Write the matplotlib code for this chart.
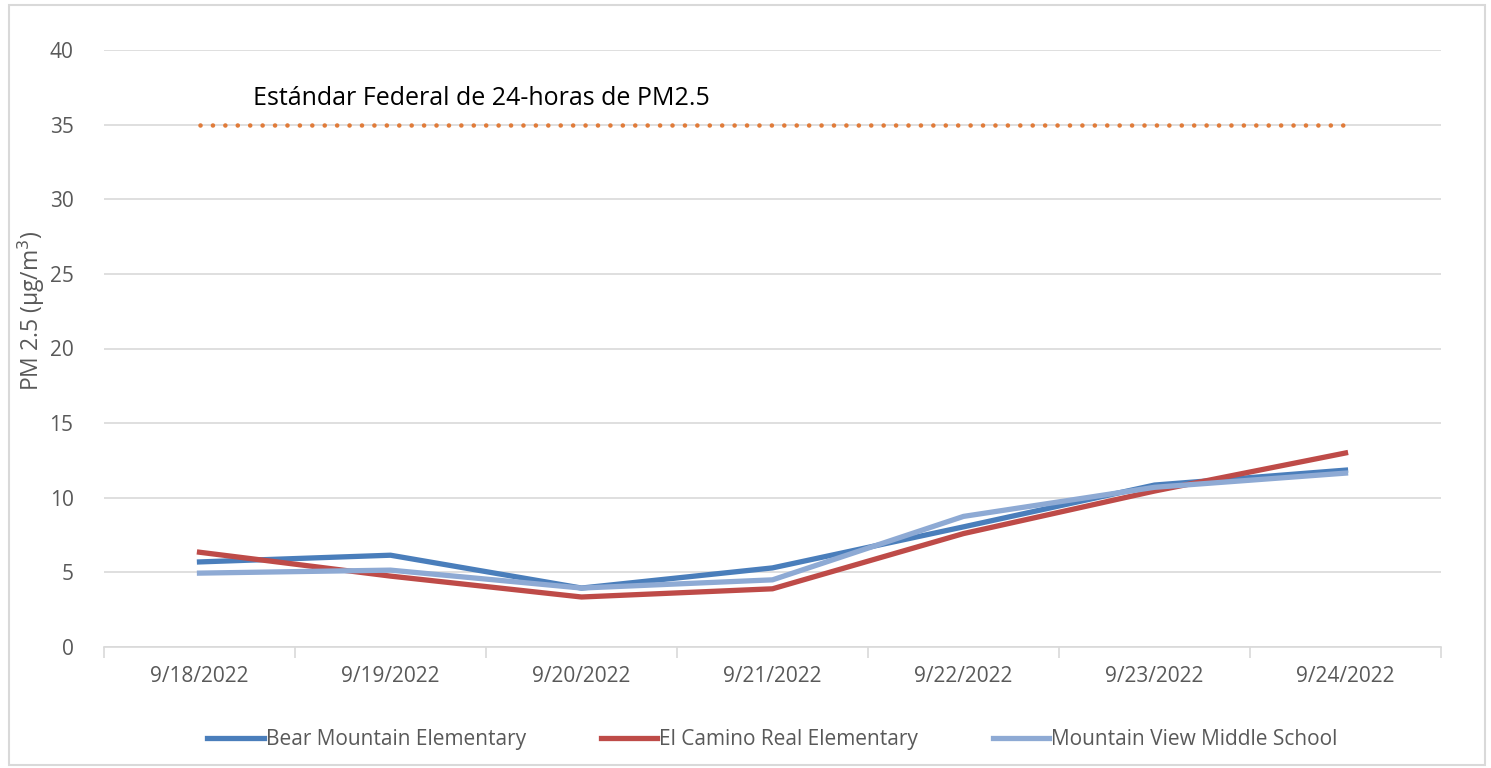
import numpy as np
import matplotlib.pyplot as plt
from matplotlib.patches import Rectangle

plt.rcParams['font.family'] = ['Open Sans', 'DejaVu Sans']

# Datos
fechas = ['9/18/2022', '9/19/2022', '9/20/2022', '9/21/2022',
          '9/22/2022', '9/23/2022', '9/24/2022']
bear_mountain = [5.7, 6.15, 3.95, 5.3, 8.05, 10.85, 11.85]
el_camino = [6.35, 4.75, 3.35, 3.9, 7.6, 10.45, 13.0]
mountain_view = [4.95, 5.15, 3.95, 4.5, 8.75, 10.7, 11.65]
estandar = [35] * len(fechas)

gris = '#595959'
x = np.arange(len(fechas))

fig = plt.figure(figsize=(14.91, 7.68), dpi=100)
ax = fig.add_axes([104 / 1491, 1 - 647 / 768, (1441 - 104) / 1491, (647 - 50) / 768])

# Borde del área del gráfico
fig.patches.append(Rectangle((0.006, 0.004), 0.99, 0.99, transform=fig.transFigure,
                             fill=False, edgecolor='#d9d9d9', linewidth=1.5))

ax.plot(x, estandar, color='#e07b39', linestyle=(0, (0.01, 2.7)), linewidth=3.3,
        dash_capstyle='round', label='_nolegend_')
ax.text(0.28, 35.9, 'Estándar Federal de 24-horas de PM2.5', fontsize=18,
        color='black', ha='left', va='bottom')

ax.plot(x, bear_mountain, color='#4a7ebb', linewidth=3.8, label='Bear Mountain Elementary')
ax.plot(x, el_camino, color='#be4b48', linewidth=3.8, label='El Camino Real Elementary')
ax.plot(x, mountain_view, color='#8eaad4', linewidth=3.8, label='Mountain View Middle School')

ax.set_xlim(-0.5, len(fechas) - 0.5)
ax.set_ylim(0, 40)
ax.set_yticks(range(0, 41, 5))
ax.set_xticks(x)
ax.set_xticklabels(fechas)
ax.set_xticks(np.arange(-0.5, len(fechas), 1), minor=True)
ax.tick_params(axis='x', which='major', length=0, pad=14, labelsize=15, labelcolor=gris)
ax.tick_params(axis='x', which='minor', length=8, color='#d9d9d9', width=1.2)
ax.tick_params(axis='y', length=0, pad=22, labelsize=15, labelcolor=gris)

ax.grid(axis='y', color='#d9d9d9', linewidth=1.2)
ax.set_axisbelow(True)
for s in ['top', 'right', 'left']:
    ax.spines[s].set_visible(False)
ax.spines['bottom'].set_color('#d9d9d9')
ax.spines['bottom'].set_linewidth(1.2)

ax.set_ylabel('PM 2.5 (µg/m$^3$)', fontsize=16.5, color=gris, va='center')
ax.yaxis.set_label_coords(-0.054, 0.563)

ax.legend(loc='center', bbox_to_anchor=(0.5, -0.155), ncol=3, frameon=False,
          fontsize=15, labelcolor=gris, handlelength=2.7, handletextpad=0.1,
          columnspacing=3.6)

fig.savefig('out.png', dpi=100)
